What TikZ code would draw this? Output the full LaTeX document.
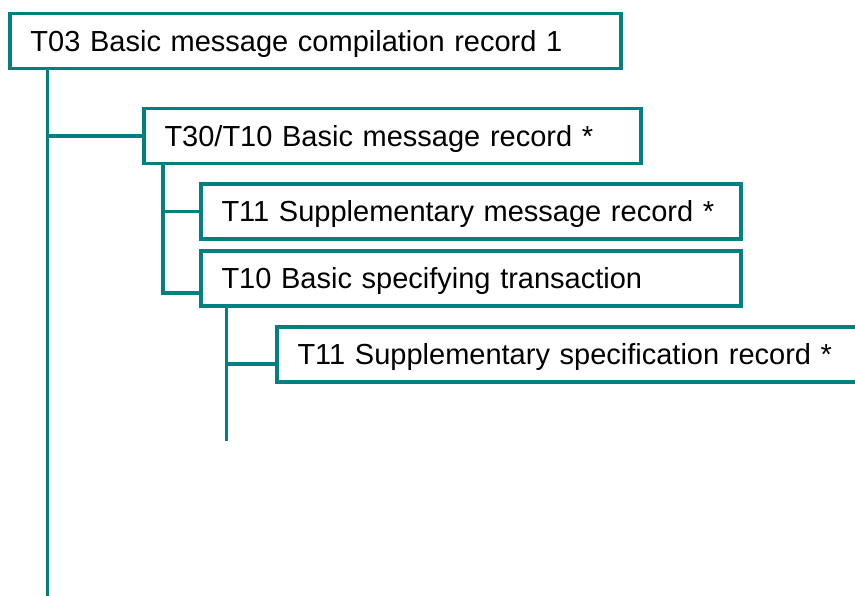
\documentclass[tikz,border=0pt]{standalone}
\usepackage{fontspec}
\setmainfont{Liberation Sans}
\usetikzlibrary{positioning,calc}
\definecolor{recteal}{RGB}{0,128,128}

\begin{document}
\begin{tikzpicture}[
    x=1pt, y=-1pt,
    rec/.style={draw=recteal, line width=3.5pt, fill=white, anchor=north west, outer sep=0pt,
        inner xsep=20.5pt, inner ysep=0pt, minimum height=55pt, align=left,
        text height=21pt, text depth=0pt, font=\fontsize{29}{34}\selectfont},
    link/.style={draw=recteal, line width=3.5pt}
]
    \useasboundingbox (0,0) rectangle (855,596);
    \clip (0,0) rectangle (855,596);

    % End of the main spine
    \coordinate (t03end) at (47.5,596);

    % Records
    \node[rec, text width=570pt] (t03) at (10,13.5) {T03 Basic message compilation record 1};
    \node[rec, text width=456pt] (t30) at (144,108.5) {T30/T10 Basic message record *};
    \node[rec, text width=499pt] (t11msg) at (201,184) {T11 Supplementary message record *};
    \node[rec, text width=499pt] (t10) at (201,251) {T10 Basic specifying transaction};
    \node[rec, text width=560pt] (t11spec) at (277,327) {T11 Supplementary specification record *};

    % Top level spine
    \draw[link] (t03.south -| t03end) -- (t03end);
    \draw[link] (t30.west -| t03end) -- (t30.west);

    % Children of T30/T10
    \coordinate (t30x) at ([xshift=19pt]t30.south west);
    \coordinate (t10tap) at ([yshift=13pt]t10.south west);
    \draw[link] (t30.south -| t30x) |- (t11msg.west);
    \draw[link] (t30.south -| t30x) |- (t10tap);

    % Children of T10
    \coordinate (t10end) at ([xshift=25.5pt,yshift=-135pt]t10.south west);
    \coordinate (t11tap) at ([yshift=-9.5pt]t11spec.west);
    \draw[link] (t10end |- t10.south) -- (t10end);
    \draw[link] (t11tap -| t10end) -- (t11tap);
\end{tikzpicture}
\end{document}
